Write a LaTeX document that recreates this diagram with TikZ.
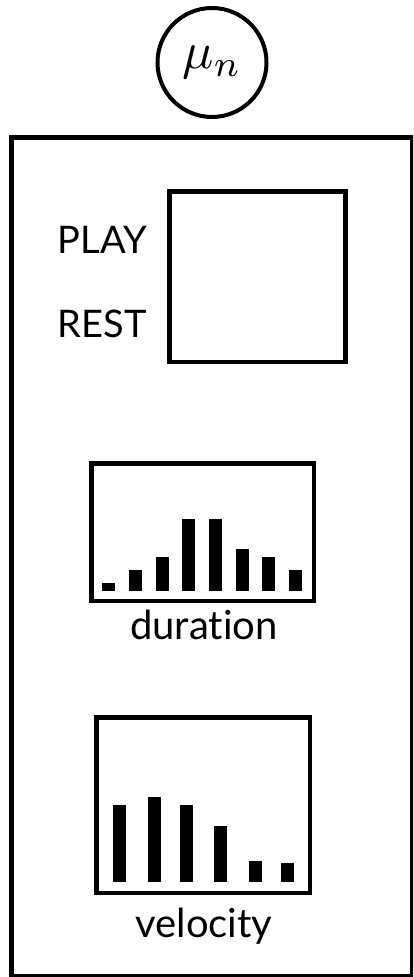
\documentclass[tikz,border=0pt]{standalone}
\usepackage{fontspec}
\setmainfont{Lato}[Ligatures=NoCommon]
\begin{document}
\begin{tikzpicture}[x=1pt,y=-1pt,
  box/.style={draw, line width=4.5pt},
  lbl/.style={font=\fontsize{38}{40}\selectfont, inner sep=0pt},
  sub/.style={font=\fontsize{40}{42}\selectfont, inner sep=0pt},
  bar/.style={fill=black}]
\useasboundingbox (0,0) rectangle (413,977);
\begin{scope}
  \clip (0,0) rectangle (413,977);
  \draw[box] (11.5,137.5) rectangle (412,976);
\end{scope}
% parameter node
\node[draw, circle, line width=4pt, minimum size=109pt, inner sep=0pt] (mu) at (212,62.5) {\scalebox{5.2}{$\mu_n$}};
% state box
\draw[box] (169.5,191.5) rectangle (345.5,362);
\node[lbl, anchor=base east] (play) at (147,253) {PLAY};
\node[lbl, anchor=base east] (rest) at (147,337) {REST};
% duration histogram
\draw[box] (91.25,463.25) rectangle (313.75,600.75);
\foreach \x/\t in {102/583,129/570,156/557,182/519,209/519,236/549,262/557,289/570}
  \fill[bar] (\x,\t) rectangle ++(13.3,591-\t);
\node[sub, anchor=base] (dur) at (204,639) {duration};
% velocity histogram
\draw[box] (96.25,717.25) rectangle (309.75,892.75);
\foreach \x/\t in {113/805,148/797,180/805,214/826,249/861,281/863}
  \fill[bar] (\x,\t) rectangle ++(13.3,882-\t);
\node[sub, anchor=base] (vel) at (204,937) {velocity};
\end{tikzpicture}
\end{document}
